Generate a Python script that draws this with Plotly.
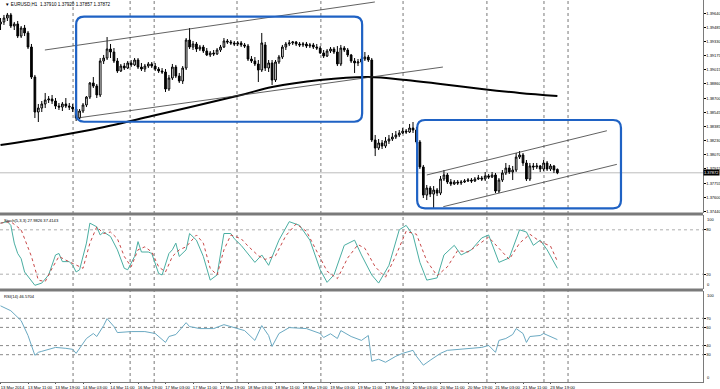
import plotly.graph_objects as go
from plotly.subplots import make_subplots

# ---------------- data ----------------
opens = [1.39524, 1.39546, 1.39590, 1.39624, 1.39501, 1.39524, 1.39390, 1.39479, 1.39424, 1.39268,
         1.38935, 1.38547, 1.38591, 1.38636, 1.38680, 1.38691, 1.38669, 1.38613, 1.38602, 1.38636,
         1.38613, 1.38602, 1.38580, 1.38480, 1.38558, 1.38625, 1.38713, 1.38869, 1.38835, 1.38736,
         1.39113, 1.39146, 1.39246, 1.39213, 1.39113, 1.39002, 1.39057, 1.39035, 1.39091, 1.39069,
         1.39124, 1.39046, 1.39024, 1.39057, 1.39080, 1.39057, 1.39024, 1.39002, 1.38991, 1.38802,
         1.38924, 1.39046, 1.38946, 1.38891, 1.39035, 1.39346, 1.39268, 1.39302, 1.39246, 1.39268,
         1.39224, 1.39180, 1.39202, 1.39191, 1.39235, 1.39268, 1.39335, 1.39324, 1.39313, 1.39302,
         1.39313, 1.39291, 1.39279, 1.39135, 1.39113, 1.39080, 1.39013, 1.39291, 1.39035, 1.39091,
         1.38902, 1.39102, 1.39157, 1.39268, 1.39302, 1.39313, 1.39324, 1.39302, 1.39291, 1.39302,
         1.39279, 1.39291, 1.39268, 1.39257, 1.39202, 1.39168, 1.39224, 1.39246, 1.39213, 1.39080,
         1.39257, 1.39235, 1.39180, 1.39113, 1.39091, 1.39102, 1.39135, 1.39157, 1.39124, 1.38236,
         1.38147, 1.38203, 1.38169, 1.38225, 1.38247, 1.38269, 1.38292, 1.38314, 1.38336, 1.38325,
         1.38369, 1.38347, 1.38214, 1.37937, 1.37625, 1.37703, 1.37636, 1.37681, 1.37647, 1.37803,
         1.37848, 1.37770, 1.37748, 1.37770, 1.37759, 1.37770, 1.37781, 1.37792, 1.37781, 1.37803,
         1.37814, 1.37803, 1.37837, 1.37825, 1.37848, 1.37670, 1.37792, 1.37870, 1.37925, 1.37881,
         1.37903, 1.38047, 1.38070, 1.37981, 1.37803, 1.37948, 1.37937, 1.37948, 1.37914, 1.37981,
         1.37914, 1.37948, 1.37910]
highs = [1.39590, 1.39624, 1.39646, 1.39646, 1.39546, 1.39557, 1.39501, 1.39513, 1.39446, 1.39302,
         1.38958, 1.38636, 1.38669, 1.38758, 1.38724, 1.38736, 1.38702, 1.38647, 1.38658, 1.38702,
         1.38647, 1.38636, 1.38613, 1.38580, 1.38647, 1.38724, 1.38880, 1.38935, 1.38858, 1.39146,
         1.39180, 1.39379, 1.39302, 1.39257, 1.39146, 1.39080, 1.39091, 1.39113, 1.39124, 1.39146,
         1.39146, 1.39091, 1.39080, 1.39102, 1.39102, 1.39091, 1.39046, 1.39035, 1.39024, 1.38958,
         1.39080, 1.39069, 1.38980, 1.39057, 1.39368, 1.39479, 1.39335, 1.39324, 1.39291, 1.39291,
         1.39257, 1.39224, 1.39235, 1.39257, 1.39291, 1.39368, 1.39357, 1.39346, 1.39335, 1.39335,
         1.39335, 1.39313, 1.39302, 1.39168, 1.39157, 1.39124, 1.39424, 1.39324, 1.39124, 1.39124,
         1.39124, 1.39180, 1.39291, 1.39324, 1.39346, 1.39335, 1.39335, 1.39324, 1.39324, 1.39324,
         1.39313, 1.39313, 1.39302, 1.39279, 1.39235, 1.39246, 1.39268, 1.39268, 1.39279, 1.39291,
         1.39279, 1.39257, 1.39191, 1.39146, 1.39135, 1.39168, 1.39213, 1.39180, 1.39146, 1.38292,
         1.38247, 1.38236, 1.38269, 1.38292, 1.38314, 1.38336, 1.38347, 1.38369, 1.38358, 1.38414,
         1.38436, 1.38380, 1.38236, 1.37959, 1.37737, 1.37725, 1.37725, 1.37703, 1.37837, 1.37903,
         1.37870, 1.37803, 1.37792, 1.37792, 1.37792, 1.37803, 1.37814, 1.37814, 1.37825, 1.37848,
         1.37837, 1.37881, 1.37859, 1.37881, 1.37870, 1.37814, 1.37903, 1.37981, 1.37959, 1.37948,
         1.38092, 1.38114, 1.38092, 1.38014, 1.37981, 1.37981, 1.37981, 1.37959, 1.38014, 1.38003,
         1.37970, 1.37959, 1.37920]
lows = [1.39457, 1.39513, 1.39557, 1.39479, 1.39457, 1.39368, 1.39368, 1.39390, 1.39246, 1.38913,
        1.38480, 1.38436, 1.38547, 1.38591, 1.38647, 1.38636, 1.38580, 1.38569, 1.38558, 1.38591,
        1.38569, 1.38547, 1.38447, 1.38469, 1.38536, 1.38602, 1.38691, 1.38813, 1.38702, 1.38713,
        1.39080, 1.39124, 1.39146, 1.39091, 1.38980, 1.38991, 1.39013, 1.39024, 1.39046, 1.39057,
        1.39024, 1.39002, 1.38991, 1.39035, 1.39035, 1.39002, 1.38980, 1.38969, 1.38769, 1.38780,
        1.38902, 1.38924, 1.38869, 1.38858, 1.39013, 1.39246, 1.39235, 1.39213, 1.39224, 1.39202,
        1.39168, 1.39157, 1.39168, 1.39180, 1.39213, 1.39257, 1.39302, 1.39291, 1.39279, 1.39279,
        1.39268, 1.39257, 1.39113, 1.39091, 1.39057, 1.38880, 1.38991, 1.39002, 1.38991, 1.38847,
        1.38880, 1.39080, 1.39135, 1.39235, 1.39279, 1.39291, 1.39279, 1.39268, 1.39268, 1.39257,
        1.39257, 1.39246, 1.39235, 1.39191, 1.39146, 1.39157, 1.39202, 1.39191, 1.39057, 1.39057,
        1.39213, 1.39157, 1.39091, 1.38980, 1.39057, 1.39080, 1.39113, 1.39102, 1.38214, 1.38058,
        1.38125, 1.38136, 1.38147, 1.38192, 1.38225, 1.38247, 1.38269, 1.38303, 1.38303, 1.38314,
        1.38314, 1.38192, 1.37914, 1.37592, 1.37570, 1.37603, 1.37481, 1.37614, 1.37625, 1.37781,
        1.37748, 1.37725, 1.37737, 1.37737, 1.37737, 1.37759, 1.37770, 1.37759, 1.37770, 1.37792,
        1.37781, 1.37781, 1.37803, 1.37814, 1.37647, 1.37647, 1.37770, 1.37848, 1.37859, 1.37792,
        1.37881, 1.38025, 1.37948, 1.37781, 1.37781, 1.37903, 1.37914, 1.37881, 1.37892, 1.37892,
        1.37892, 1.37870, 1.37857]
closes = [1.39546, 1.39590, 1.39624, 1.39501, 1.39524, 1.39390, 1.39479, 1.39424, 1.39268, 1.38935,
          1.38547, 1.38591, 1.38636, 1.38680, 1.38691, 1.38669, 1.38613, 1.38602, 1.38636, 1.38613,
          1.38602, 1.38580, 1.38480, 1.38558, 1.38625, 1.38713, 1.38869, 1.38835, 1.38736, 1.39113,
          1.39146, 1.39246, 1.39213, 1.39113, 1.39002, 1.39057, 1.39035, 1.39091, 1.39069, 1.39124,
          1.39046, 1.39024, 1.39057, 1.39080, 1.39057, 1.39024, 1.39002, 1.38991, 1.38802, 1.38924,
          1.39046, 1.38946, 1.38891, 1.39035, 1.39346, 1.39268, 1.39302, 1.39246, 1.39268, 1.39224,
          1.39180, 1.39202, 1.39191, 1.39235, 1.39268, 1.39335, 1.39324, 1.39313, 1.39302, 1.39313,
          1.39291, 1.39279, 1.39135, 1.39113, 1.39080, 1.39013, 1.39313, 1.39035, 1.39091, 1.38902,
          1.39102, 1.39157, 1.39268, 1.39302, 1.39313, 1.39324, 1.39302, 1.39291, 1.39302, 1.39279,
          1.39291, 1.39268, 1.39257, 1.39202, 1.39168, 1.39224, 1.39246, 1.39213, 1.39080, 1.39257,
          1.39235, 1.39180, 1.39113, 1.39091, 1.39102, 1.39135, 1.39157, 1.39124, 1.38236, 1.38147,
          1.38203, 1.38169, 1.38225, 1.38247, 1.38269, 1.38292, 1.38314, 1.38336, 1.38325, 1.38369,
          1.38347, 1.38214, 1.37937, 1.37625, 1.37703, 1.37636, 1.37681, 1.37647, 1.37803, 1.37848,
          1.37770, 1.37748, 1.37770, 1.37759, 1.37770, 1.37781, 1.37792, 1.37781, 1.37803, 1.37814,
          1.37803, 1.37837, 1.37825, 1.37848, 1.37670, 1.37792, 1.37870, 1.37925, 1.37881, 1.37903,
          1.38047, 1.38070, 1.37981, 1.37803, 1.37948, 1.37937, 1.37948, 1.37914, 1.37981, 1.37914,
          1.37948, 1.37903, 1.37872]
bars = list(range(len(closes)))

# moving average (thick black), read at sample bars
ma_bars = [0, 13, 26, 44, 70, 79, 93, 107, 118, 128, 140, 151, 162]
ma_vals = [1.38180, 1.38258, 1.38347, 1.38502, 1.38736, 1.38824, 1.38902, 1.38935,
           1.38902, 1.38858, 1.38802, 1.38758, 1.38724]

# hand-drawn trend lines: (bar0, price0, bar1, price1)
trend_lines = [
    (12.9, 1.39235, 108.9, 1.39768),
    (22.3, 1.38480, 128.7, 1.39046),
    (124.0, 1.37848, 176.4, 1.38339),
    (128.8, 1.37496, 179.3, 1.37966),
]
# rounded boxes: (bar0, bar1, price_low, price_high)
boxes = [
    (22.0, 105.2, 1.38439, 1.39605),
    (121.2, 180.5, 1.37478, 1.38458),
]

# Stochastic (5,3,3)
stoch_main_bars = [0, 2, 3, 4, 5, 6, 7, 9, 10, 12, 14, 16, 17, 18, 20, 21, 22, 23, 25, 26, 28, 29, 30,
                   32, 34, 36, 37, 39, 40, 41, 43, 44, 46, 47, 49, 50, 51, 52, 54, 55, 57, 59, 60, 61,
                   63, 64, 65, 67, 68, 70, 71, 74, 76, 78, 81, 84, 87, 90, 93, 95, 97, 100, 103, 105,
                   108, 110, 113, 116, 118, 120, 122, 124, 127, 129, 132, 134, 137, 140, 142, 145,
                   148, 151, 153, 155, 157, 159, 162]
stoch_main = [89, 91, 86, 62, 48, 41, 23, 10, 5, 8, 19, 46, 48, 37, 37, 32, 23, 26, 62, 89, 84, 73, 77,
              71, 53, 28, 26, 44, 64, 50, 50, 48, 21, 19, 48, 53, 62, 44, 53, 75, 66, 44, 26, 12,
              19, 48, 75, 75, 68, 59, 53, 36, 46, 32, 66, 91, 86, 66, 26, 9, 19, 59, 66, 46,
              19, 8, 32, 80, 86, 73, 36, 12, 15, 46, 59, 46, 53, 69, 73, 36,
              42, 80, 77, 59, 66, 53, 27.98]
stoch_sig_bars = [0, 3, 6, 9, 11, 13, 15, 17, 19, 22, 24, 26, 28, 30, 32, 34, 36, 38, 40, 42, 44, 46,
                  48, 50, 52, 54, 57, 59, 61, 63, 65, 67, 70, 72, 75, 77, 80, 83, 86, 89, 92, 95, 98,
                  101, 104, 106, 109, 112, 115, 118, 121, 124, 127, 130, 133, 136, 139, 142, 145,
                  148, 151, 154, 157, 160, 162]
stoch_sig = [89, 91, 80, 44, 12, 10, 28, 44, 39, 32, 28, 62, 84, 75, 77, 68, 44, 30, 53, 57, 50, 30,
             23, 44, 53, 57, 73, 62, 28, 19, 53, 73, 68, 58, 45, 40, 45, 72, 88, 78, 52, 24, 14,
             42, 60, 55, 30, 16, 45, 78, 74, 38, 18, 30, 52, 50, 60, 70, 55,
             40, 62, 74, 64, 58, 37.41]
stoch_levels = [80, 20]

# RSI (14)
rsi_bars = [0, 3, 6, 8, 10, 11, 12, 16, 19, 21, 22, 23, 25, 27, 28, 30, 31, 33, 34, 38, 42, 45, 48,
            49, 51, 54, 55, 58, 62, 65, 68, 71, 74, 76, 78, 79, 81, 84, 89, 93, 94, 96, 98, 99,
            102, 105, 107, 108, 109, 110, 112, 115, 117, 120, 121, 123, 125, 128, 130, 134, 137,
            140, 142, 144, 145, 147, 149, 150, 152, 153, 154, 157, 158, 160, 162]
rsi_vals = [83.7, 78.3, 67.4, 51.1, 29.3, 32.6, 33.7, 38.0, 37.0, 35.9, 31.5, 37.0, 47.8, 53.3, 50.0,
            62.0, 69.6, 60.9, 54.3, 55.4, 55.4, 53.3, 43.5, 50.0, 52.2, 65.2, 60.9, 58.7, 58.7, 63.0,
            59.8, 56.5, 45.7, 62.0, 51.1, 39.1, 53.3, 59.8, 58.7, 53.3, 48.9, 53.0, 47.8, 56.5,
            50.0, 45.7, 51.1, 22.8, 23.9, 25.0, 21.7, 28.3, 31.5, 34.8, 28.3, 18.5, 23.9, 31.5,
            34.8, 35.9, 37.0, 38.0, 40.2, 32.6, 45.7, 47.8, 52.2, 58.7, 53.3, 43.5, 50.0, 51.1,
            53.3, 50.0, 46.57]
rsi_levels = [70, 60, 40, 30]

# axis labels
time_label_bars = list(range(0, 161, 8))
time_labels = ["13 Mar 2014", "13 Mar 11:00", "13 Mar 19:00", "14 Mar 03:00", "14 Mar 11:00",
               "16 Mar 19:00", "17 Mar 03:00", "17 Mar 11:00", "17 Mar 19:00", "18 Mar 03:00",
               "18 Mar 11:00", "18 Mar 19:00", "19 Mar 03:00", "19 Mar 11:00", "19 Mar 19:00",
               "20 Mar 03:00", "20 Mar 11:00", "20 Mar 19:00", "21 Mar 03:00", "21 Mar 11:00",
               "23 Mar 19:00"]
price_ticks = ["1.39640", "1.39485", "1.39330", "1.39175", "1.39015", "1.38860", "1.38700",
               "1.38545", "1.38385", "1.38230", "1.38070", "1.37915", "1.37755", "1.37600", "1.37440"]
grid_bars = [21.1, 37.7, 44.7, 68.8, 93.2, 117.1, 141.5, 158.1, 165.1]
bid_price = 1.37872

# ---------------- figure ----------------
FONT = "Liberation Sans, Arial, sans-serif"
FS = 4.0

fig = make_subplots(rows=3, cols=1, shared_xaxes=True, vertical_spacing=0.005)

fig.add_trace(go.Candlestick(
    x=bars, open=opens, high=highs, low=lows, close=closes,
    increasing=dict(line=dict(color="black", width=1), fillcolor="white"),
    decreasing=dict(line=dict(color="black", width=1), fillcolor="black"),
    whiskerwidth=0, hoverinfo="skip", showlegend=False), row=1, col=1)

fig.add_trace(go.Scatter(x=ma_bars, y=ma_vals, mode="lines", line=dict(color="black", width=2, shape="spline"),
                         hoverinfo="skip", showlegend=False), row=1, col=1)

for b0, p0, b1, p1 in trend_lines:
    fig.add_trace(go.Scatter(x=[b0, b1], y=[p0, p1], mode="lines", line=dict(color="#3a3a3a", width=0.8),
                             hoverinfo="skip", showlegend=False), row=1, col=1)

fig.add_trace(go.Scatter(x=stoch_main_bars, y=stoch_main, mode="lines",
                         line=dict(color="#4aaea2", width=1), hoverinfo="skip", showlegend=False), row=2, col=1)
fig.add_trace(go.Scatter(x=stoch_sig_bars, y=stoch_sig, mode="lines",
                         line=dict(color="#c84848", width=1, dash="dot"), hoverinfo="skip", showlegend=False), row=2, col=1)
fig.add_trace(go.Scatter(x=rsi_bars, y=rsi_vals, mode="lines",
                         line=dict(color="#6aa9c2", width=1), hoverinfo="skip", showlegend=False), row=3, col=1)

shapes = []
rx, ry = 2.3, 0.0009
for b0, b1, lo, hi in boxes:
    path = (f"M {b0+rx},{hi} L {b1-rx},{hi} Q {b1},{hi} {b1},{hi-ry} L {b1},{lo+ry} "
            f"Q {b1},{lo} {b1-rx},{lo} L {b0+rx},{lo} Q {b0},{lo} {b0},{lo+ry} L {b0},{hi-ry} "
            f"Q {b0},{hi} {b0+rx},{hi} Z")
    shapes.append(dict(type="path", path=path, xref="x", yref="y",
                       line=dict(color="#1f62c4", width=2.2), layer="above"))
for gb in grid_bars:
    shapes.append(dict(type="line", xref="x", yref="paper", x0=gb, x1=gb, y0=0, y1=1,
                       line=dict(color="#555555", width=0.8, dash="dot"), layer="below"))
shapes.append(dict(type="line", xref="paper", yref="y", x0=0, x1=1, y0=bid_price, y1=bid_price,
                   line=dict(color="#bdbdbd", width=1), layer="below"))
for lv in stoch_levels:
    shapes.append(dict(type="line", xref="paper", yref="y2", x0=0, x1=1, y0=lv, y1=lv,
                       line=dict(color="#9a9a9a", width=0.8, dash="dot"), layer="below"))
for lv in rsi_levels:
    shapes.append(dict(type="line", xref="paper", yref="y3", x0=0, x1=1, y0=lv, y1=lv,
                       line=dict(color="#6a6a6a", width=0.8, dash="dot"), layer="below"))
for yp in [1 - 214 / 382, 1 - 290 / 382]:
    shapes.append(dict(type="line", xref="paper", yref="paper", x0=0, x1=1, y0=yp, y1=yp,
                       line=dict(color="#7a7a7a", width=3)))

annotations = [
    dict(text="▼ EURUSD,H1  1.37910 1.37920 1.37857 1.37872", xref="paper", yref="paper",
         x=0.004, y=0.999, xanchor="left", yanchor="top", showarrow=False,
         font=dict(family=FONT, size=4.6, color="black")),
    dict(text="Stoch(5,3,3) 27.9826 37.4143", xref="paper", yref="paper",
         x=0.003, y=1 - 216 / 382, xanchor="left", yanchor="top", showarrow=False,
         font=dict(family=FONT, size=4.1, color="black")),
    dict(text="RSI(14) 46.5704", xref="paper", yref="paper",
         x=0.003, y=1 - 292 / 382, xanchor="left", yanchor="top", showarrow=False,
         font=dict(family=FONT, size=4.1, color="black")),
    dict(text=f"{bid_price:.5f}", xref="paper", yref="y", x=1.0, y=bid_price,
         xanchor="left", yanchor="middle", showarrow=False, bgcolor="black",
         font=dict(family=FONT, size=FS, color="white"), borderpad=0),
]
# panel-edge scale labels kept inside their panels (as the terminal does)
for yref, val, anchor in [("y2", 100, "top"), ("y2", 0, "bottom"), ("y3", 100, "top"), ("y3", 0, "bottom")]:
    annotations.append(dict(text=str(val), xref="paper", yref=yref, x=1.0, y=val, xshift=2,
                            xanchor="left", yanchor=anchor, showarrow=False,
                            font=dict(family=FONT, size=FS, color="black")))

fig.update_layout(
    template="none",
    width=720, height=389,
    margin=dict(l=0, r=17, t=0, b=7),
    paper_bgcolor="white", plot_bgcolor="white",
    showlegend=False, shapes=shapes, annotations=annotations,
    font=dict(family=FONT, size=FS, color="black"),
)

xr = [-0.15, 204.36]
fig.update_xaxes(range=xr, rangeslider_visible=False, showgrid=False, zeroline=False, automargin=False)
fig.update_xaxes(showticklabels=False, ticks="", row=1, col=1)
fig.update_xaxes(showticklabels=False, ticks="", row=2, col=1)
fig.update_xaxes(tickmode="array", tickvals=time_label_bars, ticktext=time_labels, tickangle=0,
                 ticks="outside", ticklen=1, tickcolor="#555555", ticklabelshift=12,
                 ticklabelstandoff=0, showline=True, linecolor="#7a7a7a", linewidth=1,
                 tickfont=dict(family=FONT, size=4.2, color="black"), row=3, col=1)

fig.update_yaxes(side="right", showgrid=False, zeroline=False, showline=True, linecolor="#7a7a7a",
                 linewidth=1, ticks="outside", ticklen=1.5, tickcolor="black", automargin=False,
                 tickfont=dict(family=FONT, size=FS, color="black"))
fig.update_yaxes(domain=[1 - 213 / 382, 1], range=[1.37426, 1.39790], tickmode="array",
                 tickvals=[float(t) for t in price_ticks], ticktext=price_ticks, row=1, col=1)
fig.update_yaxes(domain=[1 - 289 / 382, 1 - 215 / 382], range=[0, 100], tickmode="array",
                 tickvals=[80, 20], ticktext=["80", "20"], row=2, col=1)
fig.update_yaxes(domain=[0, 1 - 291 / 382], range=[0, 100], tickmode="array",
                 tickvals=[70, 60, 40, 30], ticktext=["70", "60", "40", "30"], row=3, col=1)

fig.write_html("out.html", config={"displayModeBar": False},
               post_script="document.body.style.margin='0';document.body.style.overflow='hidden';")
